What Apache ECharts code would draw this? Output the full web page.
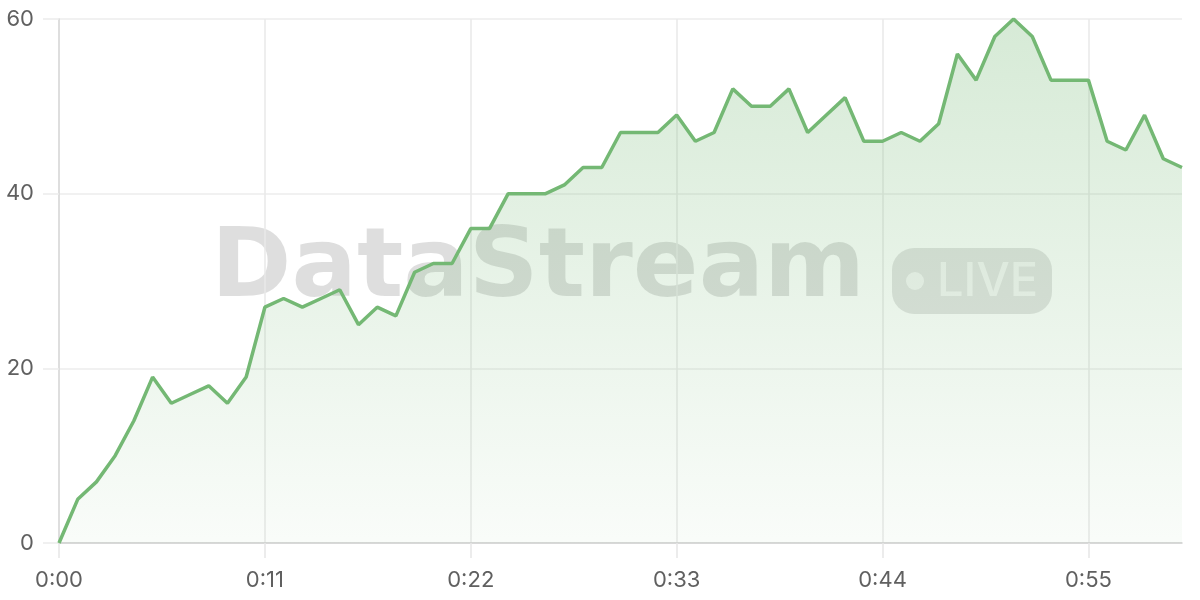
<!DOCTYPE html>
<html>
<head>
<meta charset="utf-8">
<script src="https://cdn.jsdelivr.net/npm/echarts@6/dist/echarts.min.js"></script>
<style>
html,body{margin:0;padding:0;background:#fff;}
#chart{width:1200px;height:600px;}
</style>
</head>
<body>
<div id="chart"></div>
<script>
const categories = [];
for (let s = 0; s <= 60; s++) categories.push(Math.floor(s / 60) + ':' + String(s % 60).padStart(2, '0'));
const values = [0,5,7,10,14,19,16,17,18,16,19,
  27,28,27,28,29,25,27,26,31,32,32,
  36,36,40,40,40,41,43,43,47,47,47,
  49,46,47,52,50,50,52,47,49,51,46,
  46,47,46,48,56,53,58,60,58,53,53,
  53,46,45,49,44,43];
const yTicks = [0, 20, 40, 60];
const watermarkText = 'DataStream';
const badgeText = 'LIVE';

const chart = echarts.init(document.getElementById('chart'), null, {renderer: 'canvas'});
const labelFont = {color: '#606060', fontSize: 22, fontFamily: 'Inter, "Liberation Sans", Arial, sans-serif'};
chart.setOption({
  animation: false,
  backgroundColor: '#fff',
  grid: {left: 59, right: 18, top: 19, bottom: 57, containLabel: false},
  xAxis: {
    type: 'category',
    data: categories,
    boundaryGap: false,
    axisLine: {show: true, lineStyle: {color: '#d0d0d0', width: 1.5}},
    axisTick: {show: true, interval: 10, length: 15, lineStyle: {color: '#e6e6e6', width: 1.5}},
    axisLabel: Object.assign({interval: 10, margin: 26}, labelFont),
    splitLine: {show: true, interval: 10, lineStyle: {color: '#e8e8e8', width: 1.5}}
  },
  yAxis: {
    type: 'value',
    min: yTicks[0], max: yTicks[yTicks.length - 1], interval: 20,
    axisLine: {show: true, lineStyle: {color: '#d8d8d8', width: 1.5}},
    axisTick: {show: true, length: 16, lineStyle: {color: '#ececec', width: 1.5}},
    axisLabel: Object.assign({margin: 25}, labelFont),
    splitLine: {show: true, lineStyle: {color: '#ececec', width: 1.5}}
  },
  graphic: [{
    type: 'group', z: 1, silent: true,
    children: [
      {type: 'text', x: 211, y: 271, style: {text: watermarkText, font: 'bold 97px "DejaVu Sans", sans-serif', fill: 'rgba(0,0,0,0.13)', align: 'left', verticalAlign: 'middle'}},
      {type: 'rect', shape: {x: 892, y: 248, width: 160, height: 66, r: 22}, style: {fill: 'rgba(0,0,0,0.11)'}},
      {type: 'circle', shape: {cx: 915, cy: 281, r: 9}, style: {fill: 'rgba(255,255,255,0.65)'}},
      {type: 'text', x: 937, y: 282, style: {text: badgeText, font: '500 47px Inter, "DejaVu Sans", sans-serif', fill: 'rgba(255,255,255,0.65)', align: 'left', verticalAlign: 'middle'}}
    ]
  }],
  series: [{
    type: 'line',
    data: values,
    symbol: 'none',
    z: 2,
    lineStyle: {color: '#74b874', width: 3.5},
    areaStyle: {
      color: new echarts.graphic.LinearGradient(0, 0, 0, 1, [
        {offset: 0, color: 'rgba(116,184,116,0.42)'},
        {offset: 1, color: 'rgba(116,184,116,0.06)'}
      ])
    }
  }]
});
</script>
</body>
</html>
